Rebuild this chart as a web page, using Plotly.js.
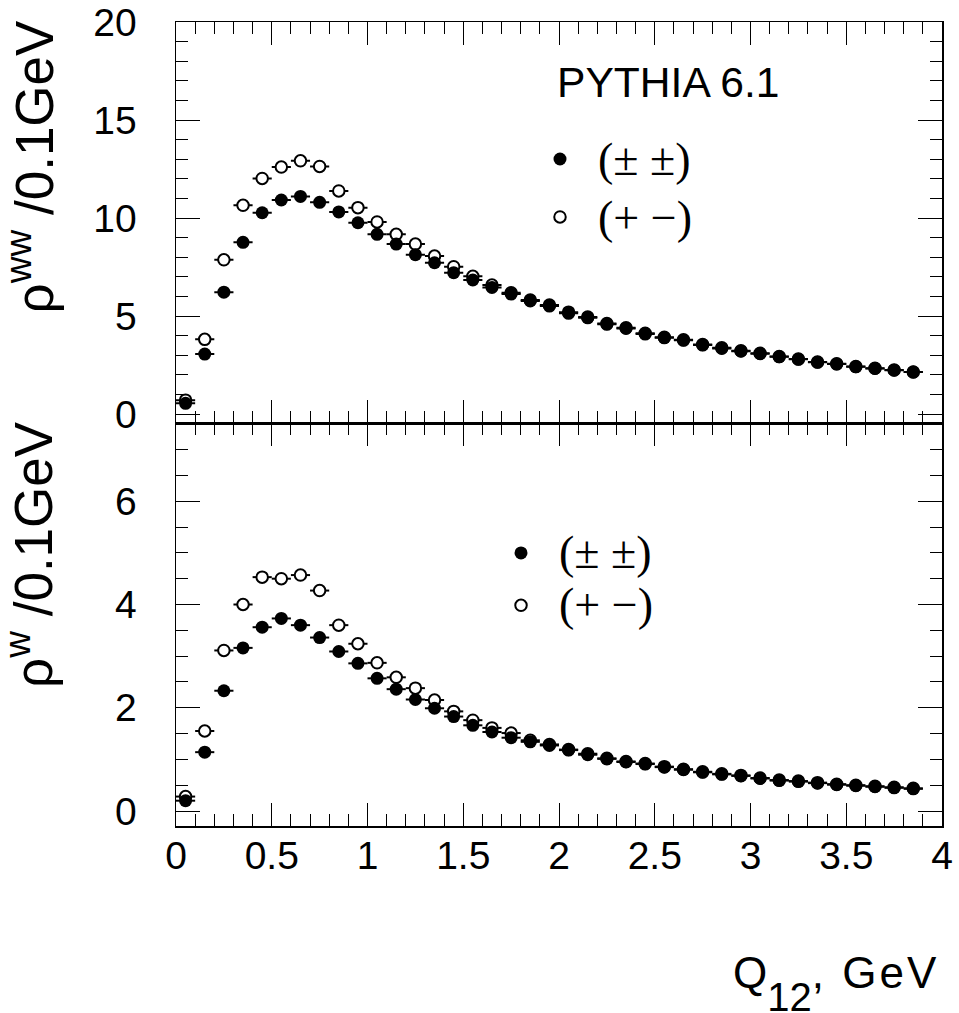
<!DOCTYPE html>
<html>
<head>
<meta charset="utf-8">
<script src="https://cdn.plot.ly/plotly-3.0.1.min.js"></script>
<style>
html, body { margin: 0; padding: 0; background: #ffffff; }
#chart { width: 959px; height: 1013px; }
</style>
</head>
<body>
<div id="chart"></div>
<script>
// ---- data ----
const q12 = [0.05, 0.15, 0.25, 0.35, 0.45, 0.55, 0.65, 0.75, 0.85, 0.95,
             1.05, 1.15, 1.25, 1.35, 1.45, 1.55, 1.65, 1.75, 1.85, 1.95,
             2.05, 2.15, 2.25, 2.35, 2.45, 2.55, 2.65, 2.75, 2.85, 2.95,
             3.05, 3.15, 3.25, 3.35, 3.45, 3.55, 3.65, 3.75, 3.85];

// top panel: rho^ww / 0.1 GeV
const rhoWWLike   = [0.55, 3.06, 6.22, 8.76, 10.27, 10.92, 11.10, 10.80, 10.31, 9.76,
                     9.17, 8.67, 8.13, 7.72, 7.21, 6.84, 6.46, 6.12, 5.77, 5.51,
                     5.14, 4.91, 4.58, 4.37, 4.08, 3.89, 3.76, 3.52, 3.35, 3.21,
                     3.08, 2.92, 2.79, 2.64, 2.55, 2.41, 2.33, 2.24, 2.14];
const rhoWWUnlike = [0.71, 3.81, 7.87, 10.65, 12.02, 12.60, 12.92, 12.63, 11.38, 10.53,
                     9.80, 9.17, 8.67, 8.06, 7.52, 7.03, 6.58, 6.19, 5.82, 5.56,
                     5.20, 4.95, 4.62, 4.40, 4.12, 3.92, 3.79, 3.55, 3.38, 3.23,
                     3.10, 2.94, 2.81, 2.66, 2.57, 2.43, 2.34, 2.25, 2.15];

// bottom panel: rho^w / 0.1 GeV
const rhoWLike    = [0.20, 1.14, 2.33, 3.16, 3.56, 3.73, 3.60, 3.36, 3.09, 2.86,
                     2.57, 2.36, 2.16, 1.99, 1.83, 1.66, 1.53, 1.42, 1.34, 1.27,
                     1.18, 1.09, 1.01, 0.95, 0.91, 0.85, 0.80, 0.75, 0.71, 0.68,
                     0.63, 0.59, 0.57, 0.54, 0.51, 0.49, 0.47, 0.45, 0.43];
const rhoWUnlike  = [0.28, 1.55, 3.11, 4.00, 4.53, 4.50, 4.57, 4.27, 3.60, 3.24,
                     2.87, 2.59, 2.38, 2.15, 1.93, 1.76, 1.61, 1.51, 1.37, 1.29,
                     1.19, 1.11, 1.02, 0.96, 0.92, 0.86, 0.81, 0.76, 0.72, 0.69,
                     0.64, 0.60, 0.58, 0.55, 0.52, 0.50, 0.48, 0.46, 0.44];

const binHalfWidth = 0.05;

// ---- texts ----
const labelLike   = '(\u00B1 \u00B1)';
const labelUnlike = '(+ \u2212)';
const generatorText = 'PYTHIA 6.1';
const yTitleTop = '\u03C1<sup>ww</sup> /0.1GeV';
const yTitleBottom = '\u03C1<sup>w</sup> /0.1GeV';
const xTitleMain = 'Q';
const xTitleSub = '12';
const xTitleRest = ', GeV';

// ---- styling ----
const SANS = 'Liberation Sans, Arial, Helvetica, sans-serif';
const SERIF = 'Liberation Serif, Times New Roman, serif';
const BLACK = '#000000';
const MARKER_SIZE = 13;

function legendName(t) {
  return '<span style="font-size:46px">' + t + '</span>';
}

function errX() {
  return { type: 'constant', value: binHalfWidth, thickness: 2, width: 0, color: BLACK };
}

const traces = [
  { x: q12, y: rhoWWUnlike, xaxis: 'x2', yaxis: 'y2', type: 'scatter', mode: 'markers',
    name: legendName(labelUnlike), legend: 'legend', legendrank: 2,
    marker: { symbol: 'circle', size: MARKER_SIZE - 1.5, color: '#ffffff', line: { color: BLACK, width: 2 } },
    error_x: errX(), hoverinfo: 'skip' },
  { x: q12, y: rhoWWLike, xaxis: 'x2', yaxis: 'y2', type: 'scatter', mode: 'markers',
    name: legendName(labelLike), legend: 'legend', legendrank: 1,
    marker: { symbol: 'circle', size: MARKER_SIZE, color: BLACK, line: { color: BLACK, width: 0 } },
    error_x: errX(), hoverinfo: 'skip' },
  { x: q12, y: rhoWUnlike, xaxis: 'x', yaxis: 'y', type: 'scatter', mode: 'markers',
    name: legendName(labelUnlike), legend: 'legend2', legendrank: 2,
    marker: { symbol: 'circle', size: MARKER_SIZE - 1.5, color: '#ffffff', line: { color: BLACK, width: 2 } },
    error_x: errX(), hoverinfo: 'skip' },
  { x: q12, y: rhoWLike, xaxis: 'x', yaxis: 'y', type: 'scatter', mode: 'markers',
    name: legendName(labelLike), legend: 'legend2', legendrank: 1,
    marker: { symbol: 'circle', size: MARKER_SIZE, color: BLACK, line: { color: BLACK, width: 0 } },
    error_x: errX(), hoverinfo: 'skip' }
];

const split = 0.5009;

function xAxis(anchor, showLabels) {
  return {
    anchor: anchor, range: [0, 4], dtick: 0.5, tick0: 0,
    ticks: 'inside', ticklen: 23, tickwidth: 1, tickcolor: BLACK,
    minor: { dtick: 0.1, tick0: 0, ticks: 'inside', ticklen: 12, tickwidth: 1, tickcolor: BLACK, showgrid: false },
    showline: true, linecolor: BLACK, linewidth: 1.5, mirror: 'ticks',
    showgrid: false, zeroline: false, showticklabels: showLabels,
    ticklabelstandoff: -5,
    tickfont: { family: SANS, size: 39, color: BLACK },
    fixedrange: true
  };
}
function yAxis(domain, range, major, minor) {
  return {
    domain: domain, range: range, dtick: major, tick0: 0,
    ticks: 'inside', ticklen: 24, tickwidth: 1, tickcolor: BLACK,
    minor: { dtick: minor, tick0: 0, ticks: 'inside', ticklen: 12, tickwidth: 1, tickcolor: BLACK, showgrid: false },
    showline: true, linecolor: BLACK, linewidth: 1.5, mirror: 'ticks',
    showgrid: false, zeroline: false,
    ticklabelstandoff: 30,
    tickfont: { family: SANS, size: 39, color: BLACK },
    fixedrange: true
  };
}

const layout = {
  width: 959, height: 1013,
  margin: { l: 176, r: 17, t: 22, b: 187, pad: 0 },
  paper_bgcolor: '#ffffff', plot_bgcolor: '#ffffff',
  font: { family: SANS, color: BLACK },
  xaxis: xAxis('y', true),
  xaxis2: Object.assign(xAxis('y2', false), { matches: 'x' }),
  yaxis: yAxis([0, split], [-0.29, 7.51], 2, 0.5),
  yaxis2: yAxis([split, 1], [-0.47, 20], 5, 1),
  showlegend: true,
  legend: {
    x: 0.4517, y: 0.8719, xanchor: 'left', yanchor: 'top',
    bgcolor: 'rgba(0,0,0,0)', borderwidth: 0, itemwidth: 66,
    font: { family: SERIF, size: 42.3, color: BLACK },
    itemclick: false, itemdoubleclick: false
  },
  legend2: {
    x: 0.4008, y: 0.3785, xanchor: 'left', yanchor: 'top',
    bgcolor: 'rgba(0,0,0,0)', borderwidth: 0, itemwidth: 66,
    font: { family: SERIF, size: 38, color: BLACK },
    itemclick: false, itemdoubleclick: false
  },
  annotations: [
    { text: generatorText, xref: 'paper', yref: 'paper', x: 0.4948, y: 0.9254,
      xanchor: 'left', yanchor: 'middle', showarrow: false,
      font: { family: SANS, size: 42.6, color: BLACK } },
    { text: yTitleTop, xref: 'paper', yref: 'paper', x: -0.1906, y: 0.8203,
      xanchor: 'center', yanchor: 'middle', textangle: -90, showarrow: false,
      font: { family: SANS, size: 53, color: BLACK } },
    { text: yTitleBottom, xref: 'paper', yref: 'paper', x: -0.1906, y: 0.3371,
      xanchor: 'center', yanchor: 'middle', textangle: -90, showarrow: false,
      font: { family: SANS, size: 53, color: BLACK } },
    { text: xTitleMain +
            '<span style="font-size:40px;baseline-shift:-23px">' + xTitleSub + '</span>' +
            '<span style="letter-spacing:3px">' + xTitleRest + '</span>',
      xref: 'paper', yref: 'paper', x: 0.9987, y: -0.1493,
      xanchor: 'right', yanchor: 'top', showarrow: false,
      font: { family: SANS, size: 44, color: BLACK } }
  ]
};

Plotly.newPlot('chart', traces, layout, { displayModeBar: false, staticPlot: true });
</script>
</body>
</html>
